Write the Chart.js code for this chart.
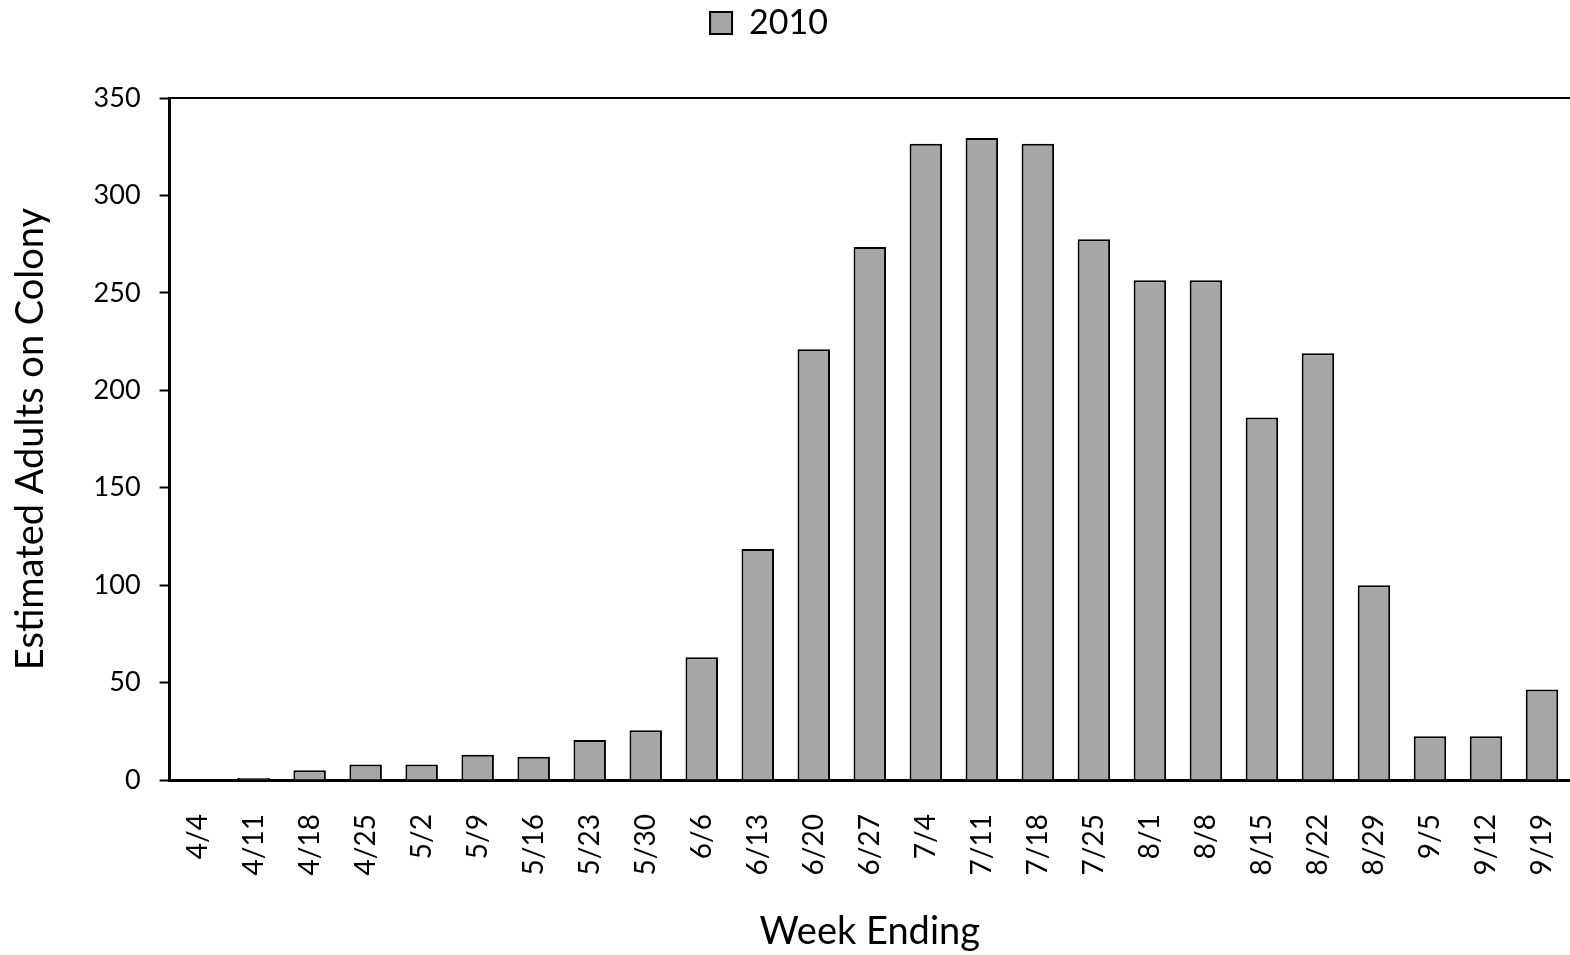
<!DOCTYPE html>
<html>
<head>
<meta charset="utf-8">
<script src="https://cdn.jsdelivr.net/npm/chart.js@4"></script>
<style>
  html, body { margin: 0; padding: 0; background: #fff; overflow: hidden; }
  #wrap { width: 1570px; height: 955px; position: relative; }
</style>
</head>
<body>
<div id="wrap"><canvas id="diagram"></canvas></div>
<script>
// weekly counts, 2010 season
var weeks = ['4/4', '4/11', '4/18', '4/25', '5/2', '5/9', '5/16', '5/23', '5/30',
  '6/6', '6/13', '6/20', '6/27', '7/4', '7/11', '7/18', '7/25', '8/1', '8/8',
  '8/15', '8/22', '8/29', '9/5', '9/12', '9/19'];
var adults2010 = [0, 1, 5, 8, 8, 13, 12, 20.5, 25.5, 63, 118.5, 221, 273.5, 326.5,
  329.5, 326.5, 277.5, 256.5, 256.5, 186, 219, 100, 22.5, 22.5, 46.5];
var yTicks = [0, 50, 100, 150, 200, 250, 300, 350];

var fontName = 'Lato';

// extra gap under the legend, and legend nudged a bit left
var legendTweak = {
  id: 'legendTweak',
  beforeInit: function (chart) {
    var fit = chart.legend.fit;
    chart.legend.fit = function () {
      fit.bind(chart.legend)();
      this.height += 40;
    };
  },
  afterLayout: function (chart) {
    chart.legend.left -= 20;
    chart.legend.right -= 20;
  }
};

var ctx = document.getElementById('diagram').getContext('2d');
var grafik = new Chart(ctx, {
  type: 'bar',
  data: {
    labels: weeks,
    datasets: [{
      label: '2010',
      data: adults2010,
      backgroundColor: '#a6a6a6',
      borderColor: '#000',
      borderWidth: 2,
      categoryPercentage: 1,
      barPercentage: 0.58
    }]
  },
  plugins: [legendTweak],
  options: {
    maintainAspectRatio: false,
    responsive: true,
    animation: false,
    layout: { padding: { top: 0, right: 0, bottom: 0, left: 8 } },
    plugins: {
      tooltip: { enabled: false },
      legend: {
        position: 'top',
        labels: {
          color: '#000',
          font: { family: fontName, size: 34 },
          boxWidth: 22,
          boxHeight: 22,
          padding: 6,
          useBorderRadius: false
        }
      }
    },
    scales: {
      x: {
        afterFit: function (scale) {
          scale.paddingRight = 0;
        },
        grid: { display: false },
        border: { color: '#000', width: 3 },
        ticks: {
          color: '#000',
          font: { family: fontName, size: 28 },
          minRotation: 90,
          maxRotation: 90,
          autoSkip: false,
          padding: 26
        },
        title: {
          display: true,
          text: 'Week Ending',
          color: '#000',
          font: { family: fontName, size: 38 },
          padding: { top: 8, bottom: 0 }
        }
      },
      top: {
        position: 'top',
        type: 'category',
        afterFit: function (scale) {
          scale.paddingRight = 0;
        },
        grid: { display: false },
        border: { color: '#000', width: 2 },
        ticks: { display: false }
      },
      y: {
        min: 0,
        max: 350,
        afterBuildTicks: function (axis) {
          axis.ticks = yTicks.map(function (v) { return { value: v }; });
        },
        grid: {
          drawOnChartArea: false,
          drawTicks: true,
          tickLength: 10,
          tickColor: '#000',
          tickWidth: 2
        },
        border: { color: '#000', width: 3 },
        ticks: {
          color: '#000',
          font: { family: fontName, size: 27 },
          padding: 19
        },
        title: {
          display: true,
          text: 'Estimated Adults on Colony',
          color: '#000',
          font: { family: fontName, size: 38 },
          padding: { top: 0, bottom: 21 }
        }
      }
    }
  }
});
</script>
</body>
</html>
